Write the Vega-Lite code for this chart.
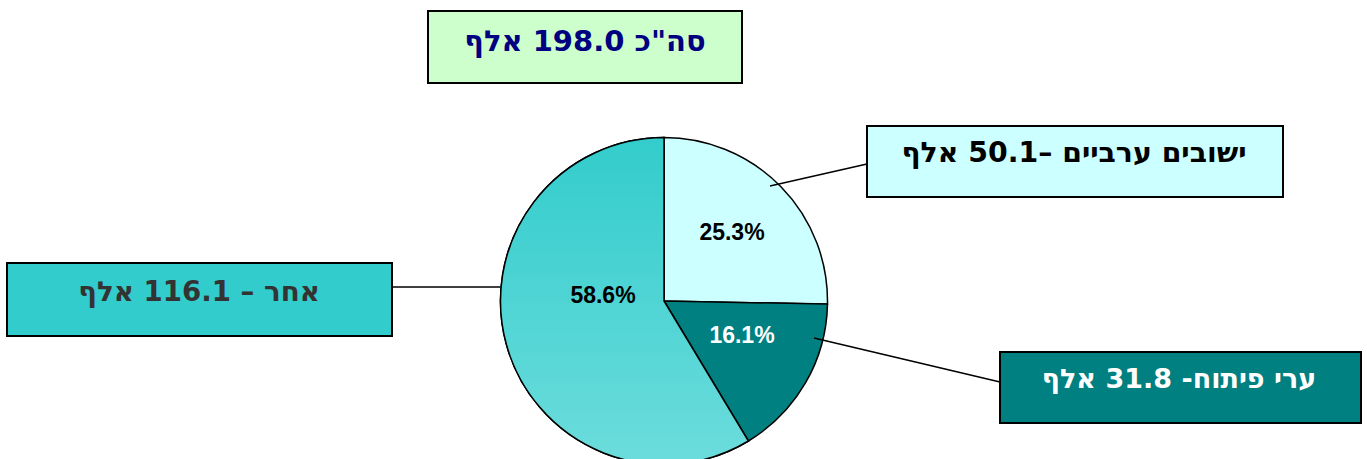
{
  "$schema": "https://vega.github.io/schema/vega-lite/v6.json",
  "width": 1367,
  "height": 459,
  "padding": 0,
  "autosize": {"type": "none"},
  "background": "#ffffff",
  "config": {"view": {"stroke": null}, "font": "Liberation Sans"},
  "datasets": {
    "shares": [
      {"category": "ישובים ערביים", "value": 50.1, "pct": "25.3%", "order": 1},
      {"category": "ערי פיתוח", "value": 31.8, "pct": "16.1%", "order": 2},
      {"category": "אחר", "value": 116.1, "pct": "58.6%", "order": 3}
    ],
    "boxes": [
      {"key": "total", "text": "סה\"כ 198.0 אלף", "x1": 428, "x2": 742, "y1": 11, "y2": 83, "tx": 585, "ty": 51},
      {"key": "arab", "text": "ישובים ערביים –50.1 אלף", "x1": 867, "x2": 1283, "y1": 126, "y2": 197, "tx": 1074, "ty": 162},
      {"key": "other", "text": "אחר – 116.1 אלף", "x1": 7, "x2": 392, "y1": 263, "y2": 336, "tx": 199, "ty": 301},
      {"key": "dev", "text": "ערי פיתוח- 31.8 אלף", "x1": 1000, "x2": 1361, "y1": 352, "y2": 423, "tx": 1179, "ty": 388}
    ],
    "leaders": [
      {"key": "arab", "x1": 770, "y1": 186, "x2": 867, "y2": 164},
      {"key": "other", "x1": 391, "y1": 287, "x2": 500, "y2": 287},
      {"key": "dev", "x1": 814, "y1": 338, "x2": 1000, "y2": 382}
    ],
    "pctLabels": [
      {"pct": "25.3%", "key": "arab", "x": 732, "y": 240},
      {"pct": "16.1%", "key": "dev", "x": 742, "y": 343},
      {"pct": "58.6%", "key": "other", "x": 603, "y": 303}
    ]
  },
  "resolve": {"scale": {"color": "independent"}},
  "layer": [
    {
      "data": {"name": "shares"},
      "transform": [
        {"stack": "value", "groupby": [], "sort": [{"field": "order", "order": "ascending"}], "as": ["v0", "v1"]}
      ],
      "mark": {"type": "arc", "outerRadius": 163.5, "stroke": "#000000", "strokeWidth": 1.5},
      "encoding": {
        "theta": {"field": "v0", "type": "quantitative", "scale": {"domain": [0, 198]}},
        "theta2": {"field": "v1"},
        "x": {"datum": 664, "type": "quantitative", "scale": {"domain": [0, 1367], "nice": false, "zero": false}, "axis": null},
        "y": {"datum": 301, "type": "quantitative", "scale": {"domain": [0, 459], "nice": false, "zero": false, "reverse": true}, "axis": null},
        "color": {"field": "category", "type": "nominal", "scale": {"domain": ["ישובים ערביים", "ערי פיתוח", "אחר"], "range": ["#CCFFFF", "#008080", "#33CCCC"]}, "legend": null}
      }
    },
    {
      "data": {"name": "shares"},
      "transform": [
        {"stack": "value", "groupby": [], "sort": [{"field": "order", "order": "ascending"}], "as": ["v0", "v1"]},
        {"filter": "datum.category === 'אחר'"}
      ],
      "mark": {
        "type": "arc",
        "outerRadius": 163.5,
        "stroke": "#000000",
        "strokeWidth": 1.5,
        "fill": {"gradient": "linear", "x1": 0, "y1": 0, "x2": 0, "y2": 1, "stops": [{"offset": 0, "color": "#33CCCC"}, {"offset": 1, "color": "#6CDCDC"}]}
      },
      "encoding": {
        "theta": {"field": "v0", "type": "quantitative", "scale": {"domain": [0, 198]}},
        "theta2": {"field": "v1"},
        "x": {"datum": 664, "type": "quantitative", "scale": {"domain": [0, 1367], "nice": false, "zero": false}, "axis": null},
        "y": {"datum": 301, "type": "quantitative", "scale": {"domain": [0, 459], "nice": false, "zero": false, "reverse": true}, "axis": null}
      }
    },
    {
      "data": {"name": "leaders"},
      "mark": {"type": "rule", "color": "#000000", "strokeWidth": 1.5},
      "encoding": {
        "x": {"field": "x1", "type": "quantitative", "scale": {"domain": [0, 1367], "nice": false, "zero": false}, "axis": null},
        "x2": {"field": "x2"},
        "y": {"field": "y1", "type": "quantitative", "scale": {"domain": [0, 459], "nice": false, "zero": false, "reverse": true}, "axis": null},
        "y2": {"field": "y2"}
      }
    },
    {
      "data": {"name": "pctLabels"},
      "mark": {"type": "text", "fontSize": 23, "fontWeight": "bold", "font": "Liberation Sans", "align": "center", "baseline": "alphabetic"},
      "encoding": {
        "x": {"field": "x", "type": "quantitative", "scale": {"domain": [0, 1367], "nice": false, "zero": false}, "axis": null},
        "y": {"field": "y", "type": "quantitative", "scale": {"domain": [0, 459], "nice": false, "zero": false, "reverse": true}, "axis": null},
        "text": {"field": "pct"},
        "color": {"field": "key", "type": "nominal", "scale": {"domain": ["arab", "dev", "other"], "range": ["#000000", "#FFFFFF", "#000000"]}, "legend": null}
      }
    },
    {
      "data": {"name": "boxes"},
      "mark": {"type": "rect", "stroke": "#000000", "strokeWidth": 2},
      "encoding": {
        "x": {"field": "x1", "type": "quantitative", "scale": {"domain": [0, 1367], "nice": false, "zero": false}, "axis": null},
        "x2": {"field": "x2"},
        "y": {"field": "y1", "type": "quantitative", "scale": {"domain": [0, 459], "nice": false, "zero": false, "reverse": true}, "axis": null},
        "y2": {"field": "y2"},
        "fill": {"field": "key", "type": "nominal", "scale": {"domain": ["total", "arab", "other", "dev"], "range": ["#CCFFCC", "#CCFFFF", "#33CCCC", "#008080"]}, "legend": null}
      }
    },
    {
      "data": {"name": "boxes"},
      "mark": {"type": "text", "fontWeight": "bold", "font": "DejaVu Sans", "align": "center", "baseline": "alphabetic"},
      "encoding": {
        "x": {"field": "tx", "type": "quantitative", "scale": {"domain": [0, 1367], "nice": false, "zero": false}, "axis": null},
        "y": {"field": "ty", "type": "quantitative", "scale": {"domain": [0, 459], "nice": false, "zero": false, "reverse": true}, "axis": null},
        "text": {"field": "text"},
        "size": {"field": "key", "type": "nominal", "scale": {"domain": ["total", "arab", "other", "dev"], "range": [29, 27, 26, 27]}, "legend": null},
        "color": {"field": "key", "type": "nominal", "scale": {"domain": ["total", "arab", "other", "dev"], "range": ["#000080", "#000000", "#333333", "#FFFFFF"]}, "legend": null}
      }
    }
  ]
}
